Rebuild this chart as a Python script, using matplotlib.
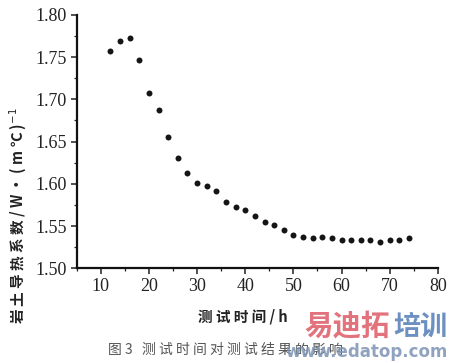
import matplotlib
matplotlib.use("Agg")
import matplotlib.pyplot as plt
from matplotlib.ticker import MultipleLocator

plt.rcParams['font.family'] = ['Noto Sans CJK SC', 'DejaVu Sans']

hours = [12, 14, 16, 18, 20, 22, 24, 26, 28, 30, 32, 34, 36, 38, 40, 42,
         44, 46, 48, 50, 52, 54, 56, 58, 60, 62, 64, 66, 68, 70, 72, 74]
conductivity = [1.757, 1.769, 1.773, 1.746, 1.708, 1.687, 1.656, 1.631,
                1.613, 1.601, 1.597, 1.592, 1.579, 1.573, 1.569, 1.562,
                1.555, 1.551, 1.545, 1.539, 1.537, 1.536, 1.537, 1.536,
                1.533, 1.534, 1.534, 1.534, 1.531, 1.533, 1.534, 1.536]
x_ticks = [10, 20, 30, 40, 50, 60, 70, 80]
y_ticks = [1.50, 1.55, 1.60, 1.65, 1.70, 1.75, 1.80]
x_label = "测 试 时 间 / h"
y_label = "岩 土 导 热 系 数 / W · ( m ℃ )$^{-1}$"
caption = "图 3   测 试 时 间 对 测 试 结 果 的 影 响"

fig = plt.figure(figsize=(4.57, 3.63), dpi=100)
ax = fig.add_axes([0.168, 0.261, 0.790, 0.698])

ax.plot(hours, conductivity, linestyle='none', marker='o', markersize=4.3,
        color='#151515', markeredgewidth=0)

ax.set_xlim(5, 80)
ax.set_ylim(1.50, 1.80)
ax.set_xticks(x_ticks)
ax.set_yticks(y_ticks)
ax.xaxis.set_minor_locator(MultipleLocator(5))
ax.yaxis.set_minor_locator(MultipleLocator(0.025))
ax.set_xticklabels([str(v) for v in x_ticks], family='Liberation Serif',
                   fontsize=13, color='#222222')
ax.set_yticklabels([f"{v:.2f}" for v in y_ticks], family='Liberation Serif',
                   fontsize=13, color='#222222')

for s in ['top', 'right']:
    ax.spines[s].set_visible(False)
for s in ['left', 'bottom']:
    ax.spines[s].set_linewidth(1.6)
    ax.spines[s].set_color('#111111')
ax.tick_params(which='major', direction='out', length=4, width=1.1, color='#222222', pad=3)
ax.tick_params(which='minor', direction='out', length=2.5, width=0.9, color='#222222')

fig.text(0.040, 0.405, y_label, rotation=90, ha='center', va='center',
         fontsize=10.5, color='#222222', fontweight='bold')
fig.text(0.532, 0.127, x_label, ha='center', va='center', fontsize=10.5,
         color='#222222', fontweight='bold')
fig.text(0.236, 0.036, caption, ha='left', va='center', fontsize=10,
         color='#555555')

# watermark
fig.text(0.666, 0.100, "易迪拓", ha='left', va='center', fontsize=20.5,
         color='#e2737c', fontweight='heavy')
fig.text(0.860, 0.100, "培训", ha='left', va='center', fontsize=19.5,
         color='#6d90c2', fontweight='heavy')
fig.text(0.980, 0.030, "www.edatop.com", ha='right', va='center', fontsize=12,
         color='#7d93b3', fontweight='bold', family=['DejaVu Sans'], alpha=0.85)

fig.savefig("out.png", dpi=100)
